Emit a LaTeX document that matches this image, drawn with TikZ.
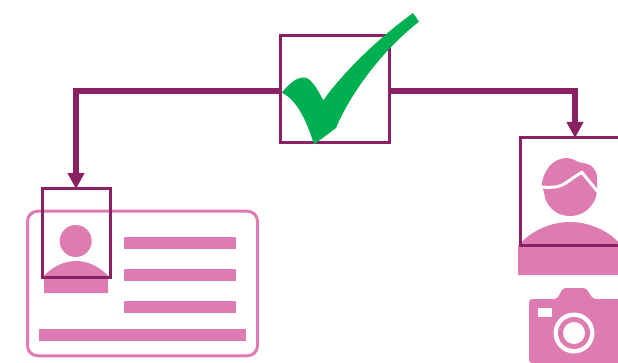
\documentclass[tikz,border=0pt]{standalone}
\usetikzlibrary{arrows.meta}
\definecolor{frame}{RGB}{139,32,99}
\definecolor{idpink}{RGB}{222,123,177}
\definecolor{tick}{RGB}{0,176,80}

\begin{document}
\begin{tikzpicture}[x=1pt,y=-1pt,>={Triangle[length=16pt,width=16pt]},
  box/.style={draw=frame,line width=3pt,inner sep=0pt,outer sep=0pt},
  bar/.style={fill=idpink,inner sep=0pt,outer sep=0pt,minimum height=12pt},
  head/.style={circle,fill=idpink,inner sep=0pt,outer sep=0pt},
  conn/.style={->,draw=frame,line width=6pt}]
  \useasboundingbox (0,0) rectangle (618,363);
  % id card
  \node[draw=idpink,line width=3pt,rounded corners=10pt,inner sep=0pt,minimum width=230pt,minimum height=144.5pt] (card) at (142.5,283.5) {};
  \node[bar,minimum width=112pt] (line1) at (180,243) {};
  \node[bar,minimum width=112pt] (line2) at (180,275) {};
  \node[bar,minimum width=112pt] (line3) at (180,307) {};
  \node[bar,minimum width=207pt] (line4) at (142.5,335) {};
  \node[head,minimum size=32pt] (idhead) at (75.7,241) {};
  \fill[idpink] (44,293) -- (44,276) .. controls (52,267) and (64,261) .. (76,261) .. controls (88,261) and (100,267) .. (108,276) -- (108,293) -- cycle;
  % person on the right
  \fill[idpink] (541.7,186) .. controls (543,170) and (553,158) .. (567,158) .. controls (573,158) and (578,163) .. (583,163) .. controls (592,164) and (597,170) .. (597,178) -- (597,192) .. controls (595,206) and (584,216) .. (570,216) .. controls (556,216) and (545,206) .. (544,192) -- cycle;
  \draw[white,line width=3pt] (541,187) .. controls (548,187.5) and (554,187.5) .. (558,186.5) .. controls (566,184.5) and (574,176) .. (582,172.5) -- (598,192);
  \fill[idpink] (518,275) -- (518,246) -- (520,244) .. controls (532,230) and (552,222) .. (570,222) .. controls (588,222) and (608,230) .. (620,244) -- (620,275) -- cycle;
  % camera
  \fill[idpink,rounded corners=3pt] (529,363) -- (529,299) -- (557,299) -- (563,288) -- (586,288) -- (593,299) -- (625,299) -- (625,363) -- cycle;
  \fill[white] (538,308) rectangle (552,317);
  \node[head,fill=white,minimum size=41pt] (lensa) at (574,333) {};
  \node[head,minimum size=32pt] (lensb) at (574,333) {};
  \node[head,fill=white,minimum size=22pt] (lensc) at (574,333) {};
  % frames
  \node[box,minimum width=109pt,minimum height=107pt] (check) at (334.5,89.5) {};
  \node[box,minimum width=68pt,minimum height=88pt] (idframe) at (76,233) {};
  \node[box,minimum width=110pt,minimum height=108pt] (camframe) at (575,192) {};
  \draw[conn] ([yshift=-1.2pt]check.west) -| (idframe.north);
  \draw[conn] ([yshift=-1.2pt]check.east) -| (camframe.north);
  % green tick
  \fill[tick] (281.7,92.7) .. controls (289,84) and (296,77.5) .. (304,77.5) .. controls (311,77.5) and (318,90) .. (323.3,100.5) .. controls (332,87) and (365,48) .. (413,13) -- (419,21.7) .. controls (385,48) and (352,90) .. (336,128) -- (314,144.5) .. controls (308,125) and (298,100) .. (281.7,92.7) -- cycle;
\end{tikzpicture}
\end{document}
